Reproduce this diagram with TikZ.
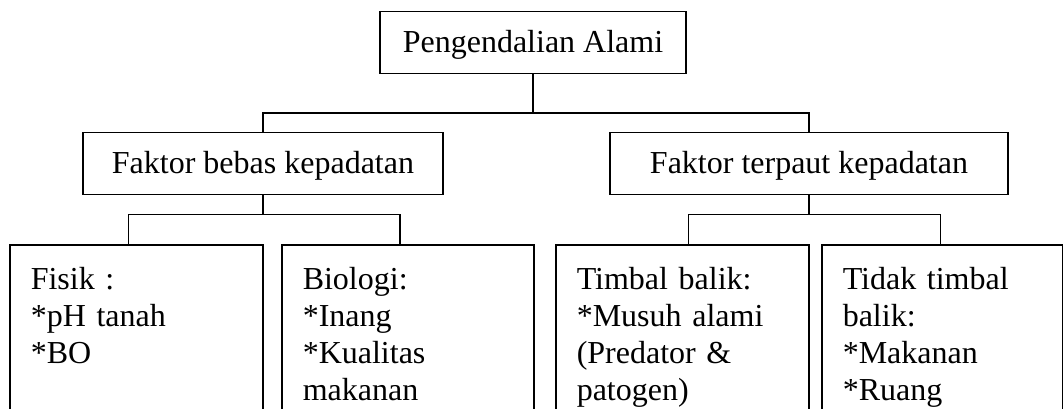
\documentclass[tikz,border=0pt]{standalone}
\usepackage{fontspec}
\setmainfont{Liberation Serif}
\usetikzlibrary{positioning}

\begin{document}
\begin{tikzpicture}[x=1pt,y=-1pt,line width=1.5pt,
	kotak/.style={
		draw,
		font=\fontsize{32}{37}\selectfont,
		text height=21pt,
		text depth=0pt,
		inner sep=0pt,
		minimum height=62pt,
	},
	daun/.style={
		draw,
		anchor=north west,
		font=\fontsize{32}{37}\selectfont,
		align=left,
		text width=#1,
		inner xsep=21pt,
		inner ysep=0pt,
		text height=45pt,
		text depth=340pt,
	},
]
	\useasboundingbox (0,0) rectangle (1063,409);
	% akar
	\node[kotak,minimum width=306pt] (alami) at (533,42.5) {Pengendalian Alami};
	% tingkat 1
	\node[kotak,minimum width=360pt] (bebas) at (263,163.5) {Faktor bebas kepadatan};
	\node[kotak,minimum width=398pt] (terpaut) at (809,163.5) {Faktor terpaut kepadatan};
	% tingkat 2
	\node[daun=211pt] (fisik) at (9,244) {Fisik :\\{}*pH tanah\\{}*BO};
	\node[daun=210pt] (bio) at (281,244) {Biologi:\\{}*Inang\\{}*Kualitas\\makanan};
	\node[daun=211pt] (timbal) at (555,244) {Timbal balik:\\{}*Musuh alami\\(Predator \&\\patogen)};
	\node[daun=199pt] (tidak) at (821,244) {Tidak timbal\\balik:\\{}*Makanan\\{}*Ruang};
	% garis
	\foreach \b in {bebas,terpaut}{
		\draw (alami.south) -- ++(0,39) -| (\b.north);
	}
	\foreach \a/\b/\s in {bebas/fisik/-8,bebas/bio/-8,terpaut/timbal/6,terpaut/tidak/-2}{
		\draw (\a.south) -- ++(0,19) -| ([xshift=\s pt]\b.north);
	}
%	\draw[red] (0,0) rectangle (1063,409);
\end{tikzpicture}
\end{document}
